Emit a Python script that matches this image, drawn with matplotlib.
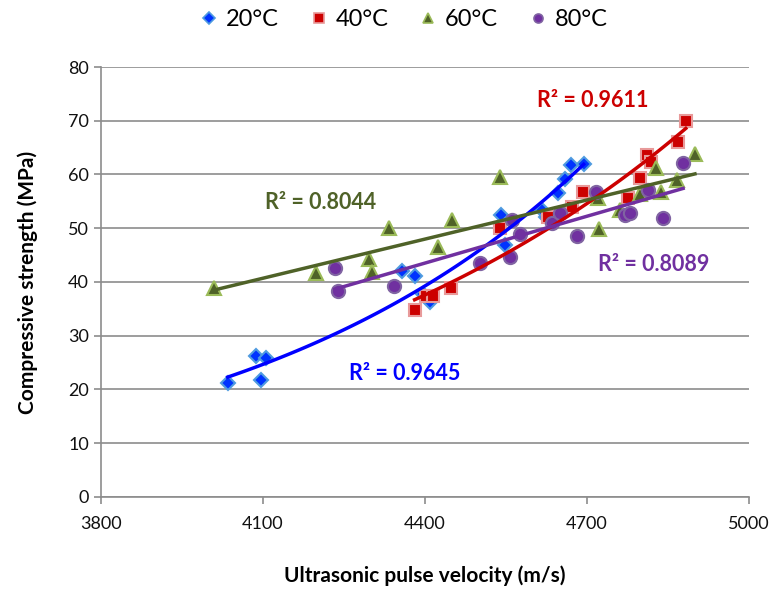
import matplotlib
matplotlib.use("Agg")
import matplotlib.pyplot as plt
import numpy as np

plt.rcParams['font.family'] = ['Lato', 'DejaVu Sans']

# velocity (m/s) / compressive strength (MPa)
v20 = [4035, 4087, 4106, 4096, 4357, 4381, 4396, 4409, 4541, 4548, 4617, 4624, 4646, 4659, 4670, 4694]
s20 = [21.2, 26.2, 25.9, 21.8, 42.0, 41.1, 37.8, 36.3, 52.5, 46.9, 53.4, 52.1, 56.6, 59.2, 61.8, 62.0]

v40 = [4381, 4402, 4415, 4448, 4539, 4628, 4672, 4693, 4776, 4798, 4811, 4819, 4869, 4883]
s40 = [34.8, 37.4, 37.4, 38.9, 50.0, 52.1, 54.0, 56.7, 55.6, 59.3, 63.6, 62.3, 66.0, 70.0]

v60 = [4009, 4198, 4296, 4302, 4333, 4424, 4450, 4539, 4720, 4722, 4761, 4798, 4828, 4837, 4867, 4900]
s60 = [38.9, 41.7, 44.3, 41.9, 50.0, 46.5, 51.5, 59.5, 55.6, 49.9, 53.4, 56.4, 61.2, 56.7, 59.0, 63.8]

v80 = [4233, 4239, 4343, 4502, 4557, 4561, 4576, 4635, 4650, 4681, 4717, 4770, 4780, 4813, 4841, 4878]
s80 = [42.6, 38.3, 39.3, 43.5, 44.7, 51.5, 48.9, 51.0, 52.8, 48.6, 56.7, 52.5, 52.8, 57.1, 51.9, 62.1]

labels = ['20°C', '40°C', '60°C', '80°C']
r2_text = ['R² = 0.9645', 'R² = 0.9611', 'R² = 0.8044', 'R² = 0.8089']

series = [
    # x, y, marker, size, face, edge, line colour, fit type, label pos
    (v20, s20, 'D', 7.5, '#0033ff', '#4f9be0', '#0000ff', 'exp', (0.383, 0.286)),
    (v40, s40, 's', 8.5, '#cc0000', '#e89a9a', '#cc0000', 'exp', (0.673, 0.921)),
    (v60, s60, '^', 9.5, '#4f6228', '#9bbb59', '#4f6228', 'lin', (0.253, 0.686)),
    (v80, s80, 'o', 9.5, '#7030a0', '#8064a2', '#7030a0', 'lin', (0.767, 0.540)),
]

fig = plt.figure(figsize=(7.69, 5.93), dpi=100)
ax = fig.add_axes([0.131, 0.162, 0.843, 0.725])

for i, (x, y, mk, ms, fc, ec, lc, kind, pos) in enumerate(series):
    x = np.array(x, float)
    y = np.array(y, float)
    ax.plot(x, y, linestyle='none', marker=mk, markersize=ms,
            markerfacecolor=fc, markeredgecolor=ec, markeredgewidth=1.5,
            zorder=3, label=labels[i])
    xx = np.linspace(x.min(), x.max(), 100)
    if kind == 'exp':
        b, a = np.polyfit(x, np.log(y), 1)
        yy = np.exp(a + b * xx)
    else:
        b, a = np.polyfit(x, y, 1)
        yy = a + b * xx
    ax.plot(xx, yy, color=lc, lw=2.5, zorder=4)
    ax.text(pos[0], pos[1], r2_text[i], transform=ax.transAxes, color=lc,
            fontsize=15.5, fontweight='bold', ha='left', va='center')

ax.set_xlim(3800, 5000)
ax.set_ylim(0, 80)
ax.set_xticks([3800, 4100, 4400, 4700, 5000])
ax.set_yticks(range(0, 81, 10))
ax.grid(axis='y', color='#8c8c8c', lw=1.2)
ax.set_axisbelow(True)
for s in ['top', 'right']:
    ax.spines[s].set_visible(False)
for s in ['left', 'bottom']:
    ax.spines[s].set_color('#8c8c8c')
    ax.spines[s].set_linewidth(1.2)
ax.tick_params(colors='#8c8c8c', labelcolor='#111111', labelsize=13,
               length=5, width=1.2)
ax.tick_params(axis='x', pad=9)

ax.set_xlabel('Ultrasonic pulse velocity (m/s)', fontsize=15, fontweight='bold',
              labelpad=24)
ax.set_ylabel('Compressive strength (MPa)', fontsize=15, fontweight='bold',
              labelpad=22)

leg_handles = []
for (x, y, mk, ms, fc, ec, lc, kind, pos), lab in zip(series, labels):
    leg_handles.append(plt.Line2D([], [], linestyle='none', marker=mk, markersize=6.5,
                                  markerfacecolor=fc, markeredgecolor=ec,
                                  markeredgewidth=1.2, label=lab))
fig.legend(handles=leg_handles, loc='upper center', bbox_to_anchor=(0.525, 1.02),
           ncol=4, frameon=False, fontsize=17, handletextpad=0.3,
           columnspacing=1.3, handlelength=0.8)

fig.savefig('out.png', dpi=100)
